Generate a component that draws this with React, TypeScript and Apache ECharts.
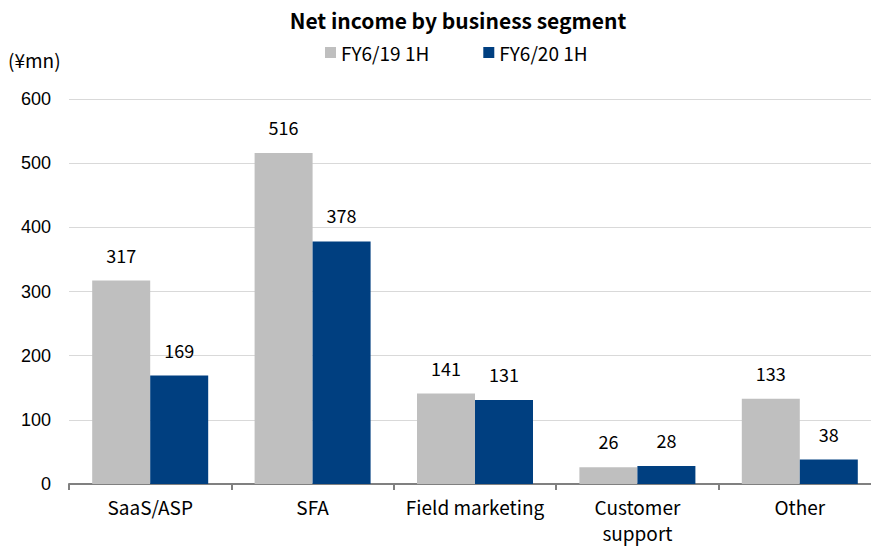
import React, { useEffect, useRef } from "react";
import * as echarts from "echarts";

const categories = ["SaaS/ASP", "SFA", "Field marketing", "Customer\nsupport", "Other"];
const fy19 = [317, 516, 141, 26, 133];
const fy20 = [169, 378, 131, 28, 38];
const seriesNames = ["FY6/19 1H", "FY6/20 1H"];

const FONT = "'Noto Sans CJK JP', 'Noto Sans', sans-serif";

export default function App() {
  const ref = useRef<HTMLDivElement>(null);
  useEffect(() => {
    const chart = echarts.init(ref.current!, null, { renderer: "svg" });
    const labelStyle = {
      show: true,
      position: "top" as const,
      distance: 17,
      color: "#000",
      fontSize: 18,
      fontFamily: FONT,
    };
    chart.setOption({
      animation: false,
      title: {
        text: "Net income by business segment",
        left: 453,
        textAlign: "center",
        top: 4,
        textStyle: { fontFamily: FONT, fontSize: 21, fontWeight: "bold", color: "#000" },
      },
      legend: {
        data: seriesNames,
        top: 38,
        left: 320,
        itemWidth: 11,
        itemHeight: 11,
        itemGap: 54,
        icon: "rect",
        textStyle: { fontFamily: FONT, fontSize: 19, color: "#000" },
      },
      graphic: [
        {
          type: "text",
          left: 8,
          top: 50,
          style: { text: "(¥mn)", fontFamily: FONT, fontSize: 19, fill: "#000" },
        },
      ],
      grid: { left: 69, top: 99, bottom: 62, width: 812, outerBoundsMode: "none", containLabel: false },
      xAxis: {
        type: "category",
        data: categories,
        axisLine: { lineStyle: { color: "#808080", width: 2 } },
        axisTick: { show: true, length: 6, lineStyle: { color: "#808080", width: 2 } },
        axisLabel: {
          color: "#000",
          fontSize: 19,
          fontFamily: FONT,
          margin: 9,
          lineHeight: 26,
          interval: 0,
        },
      },
      yAxis: {
        type: "value",
        min: 0,
        max: 600,
        interval: 100,
        axisLine: { show: false },
        axisTick: { show: false },
        splitLine: { lineStyle: { color: "#D9D9D9", width: 1 } },
        axisLabel: {
          color: "#000",
          fontSize: 18,
          fontFamily: "'Liberation Sans', Arial, sans-serif",
          margin: 18,
        },
      },
      series: [
        {
          name: seriesNames[0],
          type: "bar",
          data: fy19,
          barWidth: 58,
          barGap: "0%",
          itemStyle: { color: "#BFBFBF" },
          label: labelStyle,
        },
        {
          name: seriesNames[1],
          type: "bar",
          data: fy20,
          barWidth: 58,
          barGap: "0%",
          itemStyle: { color: "#003F80" },
          label: labelStyle,
        },
      ],
    });
    return () => chart.dispose();
  }, []);
  return (
    <div
      ref={ref}
      style={{ position: "absolute", left: 0, top: 0, width: 871, height: 546, overflow: "hidden" }}
    />
  );
}
